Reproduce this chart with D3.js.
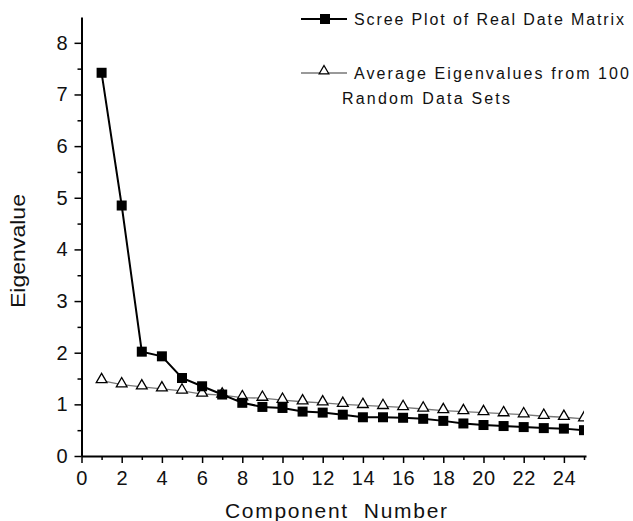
<!DOCTYPE html>
<html>
<head>
<meta charset="utf-8">
<script src="https://cdn.jsdelivr.net/npm/d3@7"></script>
<style>
  body { margin: 0; background: #fff; }
  text { font-family: "Liberation Sans", Arial, sans-serif; fill: #111; }
</style>
</head>
<body>
<div id="chart"></div>
<script>
const components = d3.range(1, 26);
const realEigen = [7.42, 4.85, 2.02, 1.93, 1.51, 1.35, 1.19, 1.03, 0.95, 0.93,
                   0.86, 0.84, 0.80, 0.75, 0.75, 0.74, 0.72, 0.68, 0.63, 0.60,
                   0.58, 0.56, 0.54, 0.53, 0.50];
const randomEigen = [1.46, 1.38, 1.34, 1.30, 1.26, 1.20, 1.18, 1.13, 1.12, 1.08,
                     1.05, 1.03, 1.00, 0.98, 0.96, 0.94, 0.91, 0.88, 0.86, 0.84,
                     0.82, 0.80, 0.77, 0.75, 0.72];
const xMajor = d3.range(0, 25, 2);
const yMajor = d3.range(0, 9, 1);
const seriesNames = ["Scree Plot of Real Date Matrix", "Average Eigenvalues from 100", "Random Data Sets"];

const W = 633, H = 521;
const margin = {top: 17, right: 47, bottom: 65, left: 81.5};

var svg = d3.select("#chart").append("svg")
  .attr("width", W)
  .attr("height", H);

var x = d3.scaleLinear().domain([0, 25.1]).range([margin.left, W - margin.right]);
var y = d3.scaleLinear().domain([0, 8.5]).range([H - margin.bottom, margin.top]);

svg.append("clipPath").attr("id", "plotclip")
  .append("rect")
  .attr("x", margin.left).attr("y", 0)
  .attr("width", x(25) - margin.left).attr("height", H - margin.bottom);

// minor ticks
svg.append("g")
  .attr("transform", "translate(0," + y(0) + ")")
  .call(d3.axisBottom(x).tickValues(d3.range(1, 26, 2)).tickSize(4).tickFormat(""))
  .call(g => g.select(".domain").remove());
svg.append("g")
  .attr("transform", "translate(" + x(0) + ",0)")
  .call(d3.axisLeft(y).tickValues(d3.range(0.5, 8.5, 1)).tickSize(4).tickFormat(""))
  .call(g => g.select(".domain").remove());

// major axes
var xAxis = svg.append("g")
  .attr("transform", "translate(0," + y(0) + ")")
  .call(d3.axisBottom(x).tickValues(xMajor).tickSize(7).tickSizeOuter(0).tickPadding(8));
xAxis.selectAll("text").style("font-size", "20px").style("letter-spacing", "0.5px");

var yAxis = svg.append("g")
  .attr("transform", "translate(" + x(0) + ",0)")
  .call(d3.axisLeft(y).tickValues(yMajor).tickSize(7).tickSizeOuter(0).tickPadding(7));
yAxis.selectAll("text").style("font-size", "20px");

svg.selectAll(".domain").attr("stroke", "#000").attr("stroke-width", 2);
svg.selectAll(".tick line").attr("stroke", "#000").attr("stroke-width", 1.5);

// axis titles
svg.append("text")
  .attr("transform", "translate(25," + 251 + ") rotate(-90)")
  .attr("text-anchor", "middle")
  .attr("textLength", 114)
  .attr("lengthAdjust", "spacingAndGlyphs")
  .style("font-size", "21px")
  .text("Eigenvalue");

svg.append("text")
  .attr("x", 225).attr("y", 518)
  .attr("textLength", 222)
  .style("font-size", "21px")
  .style("white-space", "pre")
  .text("Component  Number");

var plot = svg.append("g").attr("clip-path", "url(#plotclip)");

var line = d3.line().x((d, i) => x(components[i])).y(d => y(d));

plot.append("path").datum(randomEigen)
  .attr("fill", "none").attr("stroke", "#777").attr("stroke-width", 1.3)
  .attr("d", line);
plot.append("path").datum(realEigen)
  .attr("fill", "none").attr("stroke", "#000").attr("stroke-width", 2)
  .attr("d", line);

var tri = d3.symbol().type(d3.symbolTriangle).size(50);
plot.selectAll(".tri").data(randomEigen).join("path")
  .attr("class", "tri")
  .attr("transform", (d, i) => "translate(" + x(components[i]) + "," + (y(d) - 1) + ")")
  .attr("d", tri)
  .attr("fill", "#fff").attr("stroke", "#000").attr("stroke-width", 1.3);

plot.selectAll(".sq").data(realEigen).join("rect")
  .attr("class", "sq")
  .attr("x", (d, i) => x(components[i]) - 5)
  .attr("y", d => y(d) - 5)
  .attr("width", 10).attr("height", 10)
  .attr("fill", "#000");

// legend
var leg = svg.append("g");
leg.append("line").attr("x1", 301).attr("x2", 347).attr("y1", 19).attr("y2", 19)
  .attr("stroke", "#000").attr("stroke-width", 2);
leg.append("rect").attr("x", 320).attr("y", 14).attr("width", 10).attr("height", 10).attr("fill", "#000");
leg.append("text").attr("x", 354).attr("y", 25)
  .attr("textLength", 270).style("font-size", "16px").text(seriesNames[0]);

leg.append("line").attr("x1", 301).attr("x2", 347).attr("y1", 73).attr("y2", 73)
  .attr("stroke", "#777").attr("stroke-width", 1.3);
leg.append("path").attr("transform", "translate(324,71)")
  .attr("d", d3.symbol().type(d3.symbolTriangle).size(40))
  .attr("fill", "#fff").attr("stroke", "#000").attr("stroke-width", 1.3);
leg.append("text").attr("x", 354).attr("y", 79)
  .attr("textLength", 275).style("font-size", "16px").text(seriesNames[1]);
leg.append("text").attr("x", 342).attr("y", 104)
  .attr("textLength", 168).style("font-size", "16px").text(seriesNames[2]);
</script>
</body>
</html>
